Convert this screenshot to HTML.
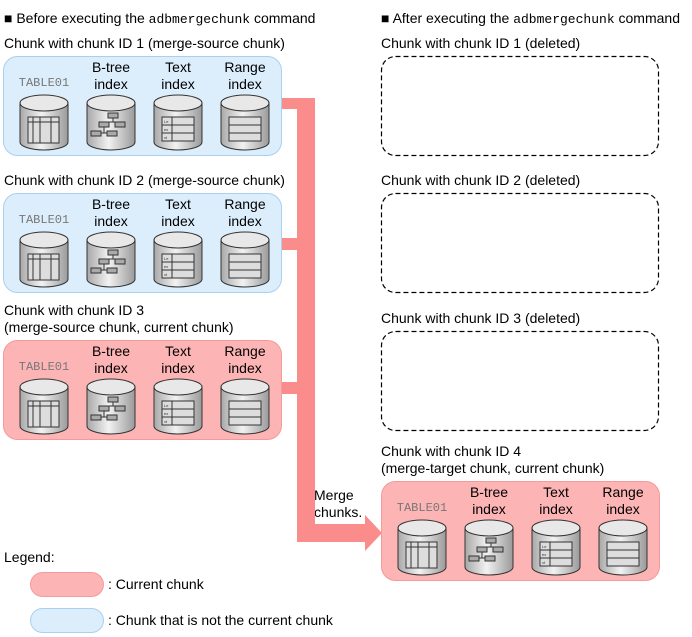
<!DOCTYPE html>
<html><head><style>
body{margin:0;background:#fff;}
svg{display:block;font-family:"Liberation Sans",sans-serif;}
</style></head><body>
<svg width="692" height="637" viewBox="0 0 692 637" xmlns="http://www.w3.org/2000/svg">
<defs>
<linearGradient id="cg" x1="0" x2="1" y1="0" y2="0">
<stop offset="0" stop-color="#a8a8a8"/><stop offset="0.45" stop-color="#f2f2f2"/><stop offset="1" stop-color="#9a9a9a"/>
</linearGradient>
<g id="cyl">
<path d="M0,8 L0,47 A24,8 0 0 0 48,47 L48,8 Z" fill="url(#cg)" stroke="#333" stroke-width="1"/>
<ellipse cx="24" cy="8" rx="24" ry="8" fill="#e8e8e8" stroke="#333" stroke-width="1"/>
</g>
<g id="c1"><use href="#cyl"/>
<rect x="8" y="22" width="31" height="26" fill="#ddd" stroke="#333"/>
<line x1="8" y1="27" x2="39" y2="27" stroke="#333"/><line x1="13" y1="22" x2="13" y2="48" stroke="#333"/>
<line x1="20" y1="22" x2="20" y2="48" stroke="#333"/><line x1="31" y1="22" x2="31" y2="48" stroke="#333"/></g>
<g id="c2"><use href="#cyl"/>
<rect x="21" y="18" width="10" height="5" fill="#aaa" stroke="#333"/>
<line x1="26" y1="23" x2="26" y2="27" stroke="#333"/><line x1="17" y1="27" x2="33" y2="27" stroke="#333"/>
<rect x="12" y="27" width="10" height="5" fill="#aaa" stroke="#333"/><rect x="28" y="27" width="10" height="5" fill="#aaa" stroke="#333"/>
<line x1="17" y1="32" x2="17" y2="38" stroke="#333"/><line x1="8" y1="38" x2="25" y2="38" stroke="#333"/>
<rect x="4" y="36" width="10" height="5" fill="#aaa" stroke="#333"/><rect x="20" y="36" width="10" height="5" fill="#aaa" stroke="#333"/></g>
<g id="c3"><use href="#cyl"/>
<rect x="8" y="22" width="32" height="24" fill="#ddd" stroke="#333"/>
<line x1="8" y1="30" x2="40" y2="30" stroke="#333"/><line x1="8" y1="38" x2="40" y2="38" stroke="#333"/>
<line x1="18" y1="22" x2="18" y2="46" stroke="#333"/>
<text x="10" y="28" font-size="4" fill="#333">Le</text><text x="10" y="36" font-size="4" fill="#333">ex</text><text x="10" y="44" font-size="4" fill="#333">xt</text></g>
<g id="c4"><use href="#cyl"/>
<rect x="8" y="22" width="32" height="24" fill="#ddd" stroke="#333"/>
<line x1="8" y1="30" x2="40" y2="30" stroke="#333"/><line x1="8" y1="38" x2="40" y2="38" stroke="#333"/></g>
<g id="chunk">
<text x="44" y="86" font-family="Liberation Mono,monospace" font-size="12" fill="#777" text-anchor="middle">TABLE01</text>
<text x="111" y="72" font-size="14" text-anchor="middle">B-tree</text><text x="111" y="89" font-size="14" text-anchor="middle">index</text>
<text x="178" y="72" font-size="14" text-anchor="middle">Text</text><text x="178" y="89" font-size="14" text-anchor="middle">index</text>
<text x="245" y="72" font-size="14" text-anchor="middle">Range</text><text x="245" y="89" font-size="14" text-anchor="middle">index</text>
<use href="#c1" x="20" y="95"/><use href="#c2" x="87" y="95"/><use href="#c3" x="154" y="95"/><use href="#c4" x="221" y="95"/>
</g>
</defs>
<g font-size="14" fill="#000">
<text x="4" y="23">■ Before executing the <tspan font-family="Liberation Mono,monospace" font-size="13">adbmergechunk</tspan> command</text>
<text x="381" y="23">■ After executing the <tspan font-family="Liberation Mono,monospace" font-size="13">adbmergechunk</tspan> command</text>
<text x="4" y="48">Chunk with chunk ID 1 (merge-source chunk)</text>
<text x="4" y="185">Chunk with chunk ID 2 (merge-source chunk)</text>
<text x="4" y="315">Chunk with chunk ID 3</text>
<text x="4" y="332">(merge-source chunk, current chunk)</text>
<text x="381" y="48">Chunk with chunk ID 1 (deleted)</text>
<text x="381" y="185">Chunk with chunk ID 2 (deleted)</text>
<text x="381" y="323">Chunk with chunk ID 3 (deleted)</text>
<text x="381" y="456">Chunk with chunk ID 4</text>
<text x="381" y="473">(merge-target chunk, current chunk)</text>
<text x="314" y="500">Merge</text><text x="314" y="517">chunks.</text>
<text x="4" y="562">Legend:</text>
<text x="108" y="589">: Current chunk</text>
<text x="108" y="625">: Chunk that is not the current chunk</text>
</g>
<!-- pink connector -->
<g fill="#fa8c8c">
<rect x="281" y="98" width="34" height="11"/>
<rect x="281" y="238" width="34" height="12"/>
<rect x="281" y="382" width="34" height="12"/>
<rect x="297" y="98" width="18" height="444"/>
<rect x="297" y="524" width="70" height="18"/>
<polygon points="365,515 382,533 365,551"/>
</g>
<!-- left boxes -->
<rect x="3.5" y="56.5" width="278" height="99" rx="14" fill="#dceefc" stroke="#a8d0f0"/>
<use href="#chunk" x="0" y="0"/>
<rect x="3.5" y="193.5" width="278" height="99" rx="14" fill="#dceefc" stroke="#a8d0f0"/>
<use href="#chunk" x="0" y="137"/>
<rect x="3.5" y="340.5" width="278" height="99" rx="14" fill="#fdb4b4" stroke="#f59a9a"/>
<use href="#chunk" x="0" y="284"/>
<!-- right -->
<g fill="none" stroke="#000" stroke-dasharray="5,3" stroke-width="1.2">
<rect x="381.5" y="56.5" width="277" height="99" rx="14"/>
<rect x="381.5" y="193.5" width="277" height="99" rx="14"/>
<rect x="381.5" y="331.5" width="277" height="99" rx="14"/>
</g>
<rect x="381.5" y="481.5" width="278" height="99" rx="14" fill="#fdb4b4" stroke="#f59a9a"/>
<use href="#chunk" x="378" y="425"/>
<!-- legend -->
<rect x="30.5" y="572.5" width="73" height="24" rx="12" fill="#fdb4b4" stroke="#f59a9a"/>
<rect x="30.5" y="608.5" width="73" height="24" rx="12" fill="#dceefc" stroke="#a8d0f0"/>
</svg>
</body></html>
